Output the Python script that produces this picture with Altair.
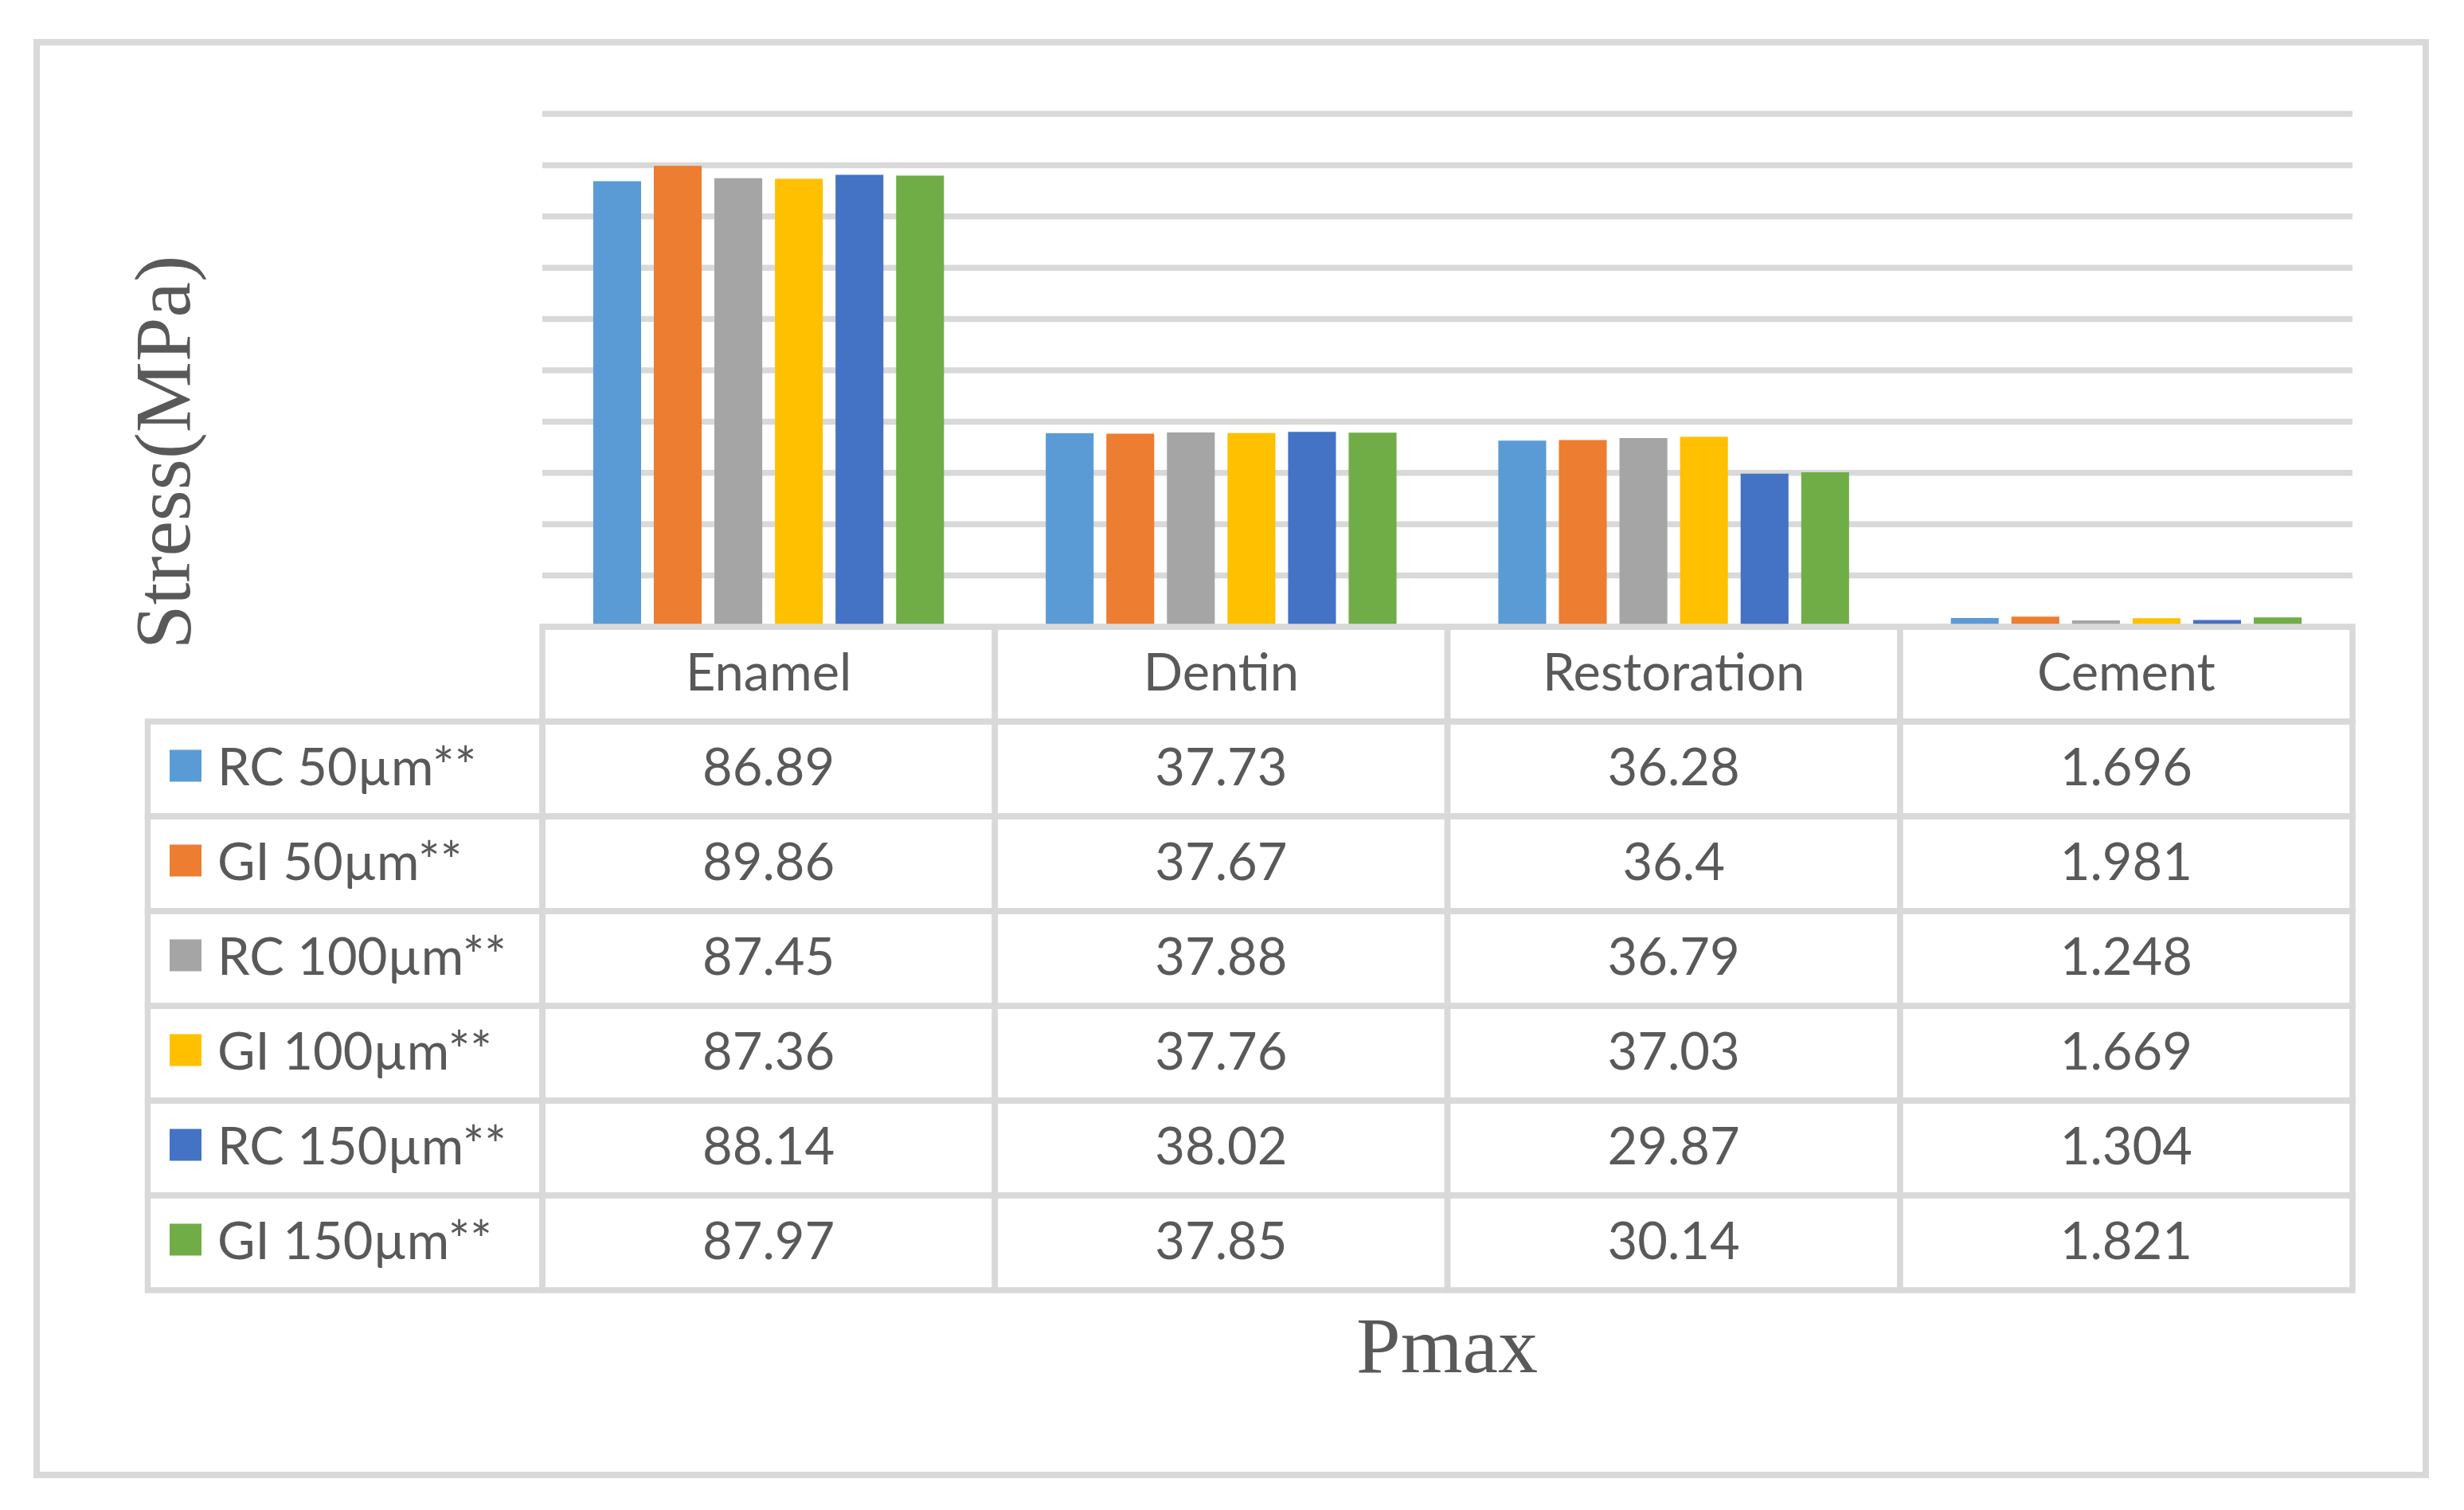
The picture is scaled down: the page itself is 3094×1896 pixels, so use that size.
import altair as alt
import pandas as pd

# ---- data ----
categories = ["Enamel", "Dentin", "Restoration", "Cement"]
series_names = ["RC 50\u00b5m**", "GI 50\u00b5m**", "RC 100\u00b5m**",
                "GI 100\u00b5m**", "RC 150\u00b5m**", "GI 150\u00b5m**"]
rc50 = [86.89, 37.73, 36.28, 1.696]
gi50 = [89.86, 37.67, 36.4, 1.981]
rc100 = [87.45, 37.88, 36.79, 1.248]
gi100 = [87.36, 37.76, 37.03, 1.669]
rc150 = [88.14, 38.02, 29.87, 1.304]
gi150 = [87.97, 37.85, 30.14, 1.821]
grid_ticks = [0, 10, 20, 30, 40, 50, 60, 70, 80, 90, 100]
colors = ["#5B9BD5", "#ED7D31", "#A5A5A5", "#FFC000", "#4472C4", "#70AD47"]
y_title = "Stress(MPa)"
x_title = "Pmax"

values = [rc50, gi50, rc100, gi100, rc150, gi150]
rows = []
for s, vals in zip(series_names, values):
    for c, v in zip(categories, vals):
        rows.append({"category": c, "series": s, "value": v})
df = pd.DataFrame(rows)
df_cat = pd.DataFrame({"category": categories, "row": ["header"] * len(categories)})
df_series = pd.DataFrame({"series": series_names})
df_grid = pd.DataFrame({"tick": grid_ticks})
df_ytitle = pd.DataFrame({"t": [y_title]})
df_xtitle = pd.DataFrame({"t": [x_title]})

# ---- layout (view = outer frame) ----
W, H = 3000, 1799
X_RANGE = [635, 2908]
Y_RANGE = [734, 90]
ROW_RANGE = [734, 1567]
LINE = "#D9D9D9"
LW = 7.5
TXT = "#595959"
FONT = "Lato"
FS = 65
row_domain = ["header"] + series_names

x_enc = alt.X("category:N", sort=categories,
              scale=alt.Scale(domain=categories, range=X_RANGE,
                              paddingInner=0, paddingOuter=0),
              axis=None)
val_scale = alt.Scale(domain=[0, 100], range=Y_RANGE, nice=False, zero=True)
row_scale = alt.Scale(domain=row_domain, range=ROW_RANGE, paddingInner=0, paddingOuter=0)
color_enc = alt.Color("series:N", scale=alt.Scale(domain=series_names, range=colors),
                      legend=None)

grid = alt.Chart(df_grid).mark_rule(color=LINE, strokeWidth=LW).encode(
    y=alt.Y("tick:Q", scale=val_scale, axis=None),
    x=alt.value(X_RANGE[0]), x2=alt.value(X_RANGE[1]))

bars = alt.Chart(df).mark_bar().encode(
    x=x_enc,
    xOffset=alt.XOffset("series:N", sort=series_names,
                        scale=alt.Scale(domain=series_names, paddingInner=0.21,
                                        paddingOuter=0.84)),
    y=alt.Y("value:Q", scale=val_scale, axis=None),
    color=color_enc)

cells = alt.Chart(df).mark_rect(fill="white", fillOpacity=0, stroke=LINE,
                                strokeWidth=LW).encode(
    x=x_enc, y=alt.Y("series:N", scale=row_scale, axis=None))

header_cells = alt.Chart(df_cat).mark_rect(fill="white", fillOpacity=0, stroke=LINE,
                                           strokeWidth=LW).encode(
    x=x_enc, y=alt.Y("row:N", scale=row_scale, axis=None))

legend_cells = alt.Chart(df_series).mark_rect(fill="white", fillOpacity=0, stroke=LINE,
                                              strokeWidth=LW).encode(
    x=alt.value(139.5), x2=alt.value(X_RANGE[0]),
    y=alt.Y("series:N", scale=row_scale, axis=None))

header_text = alt.Chart(df_cat).mark_text(font=FONT, fontSize=FS, color=TXT,
                                          baseline="middle").encode(
    x=x_enc, y=alt.Y("row:N", scale=row_scale, axis=None), text="category:N")

num_text = alt.Chart(df).mark_text(font=FONT, fontSize=FS, color=TXT,
                                   baseline="middle").encode(
    x=x_enc, y=alt.Y("series:N", scale=row_scale, axis=None), text=alt.Text("value:N"))

swatches = alt.Chart(df_series).mark_square(size=1600, opacity=1).encode(
    x=alt.value(187), y=alt.Y("series:N", scale=row_scale, axis=None),
    yOffset=alt.value(-4), color=color_enc)

legend_text = alt.Chart(df_series).mark_text(font=FONT, fontSize=FS, color=TXT,
                                             baseline="middle", align="left").encode(
    x=alt.value(227), y=alt.Y("series:N", scale=row_scale, axis=None),
    text="series:N")

ytitle = alt.Chart(df_ytitle).mark_text(font="Liberation Serif", fontSize=100, color=TXT,
                                        angle=270, baseline="middle",
                                        align="center").encode(
    x=alt.value(162), y=alt.value(515), text="t:N")

xtitle = alt.Chart(df_xtitle).mark_text(font="Liberation Serif", fontSize=100, color=TXT,
                                        baseline="alphabetic",
                                        align="center").encode(
    x=alt.value(1771), y=alt.value(1670), text="t:N")

chart = alt.layer(grid, bars, cells, header_cells, legend_cells, header_text, num_text,
                  swatches, legend_text, ytitle, xtitle).resolve_scale(
    y="independent"
).properties(
    width=W, height=H,
    autosize=alt.AutoSizeParams(type="none"),
    padding={"left": 38, "top": 45, "right": 40, "bottom": 40},
    background="white",
).configure_view(stroke=LINE, strokeWidth=8)

chart.save("out.html", embed_options={"renderer": "svg", "actions": False})
